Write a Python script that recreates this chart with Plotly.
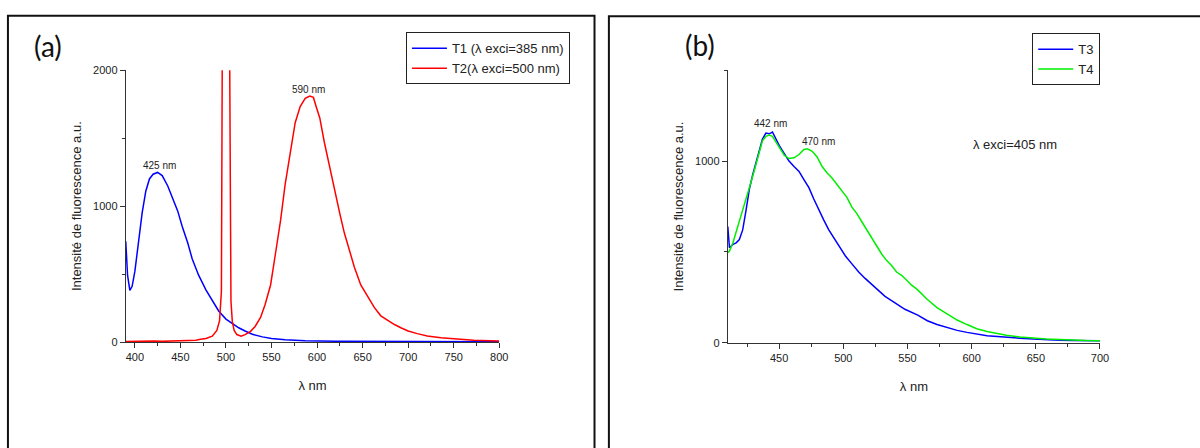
import plotly.graph_objects as go

# ---------------- data ----------------
t1_x = [390, 392, 394.5, 397, 400, 404, 408, 412, 416, 420, 425, 430, 436, 441, 447, 452, 458, 463,
        470, 478, 485, 492, 500, 507, 514, 521, 529, 540, 550, 565, 587, 620, 660, 700, 750, 800]
t1_y = [742, 490, 380, 410, 520, 740, 950, 1110, 1200, 1235, 1248, 1225, 1150, 1065, 965, 850, 730, 611,
        492, 384, 301, 229, 169, 134, 105, 81, 57, 38, 26, 17, 10, 6, 4, 3, 2, 2]

t2_x = [390, 400, 410, 420, 430, 440, 450, 460, 467, 472, 478, 485, 490, 493, 495, 496, 498, 502, 504,
        505.5, 507, 509, 512, 516.6, 521, 527, 532, 538, 543, 549, 554, 560, 565, 571, 576, 581.5, 587,
        592, 596, 599, 603, 608, 614, 619, 625, 630, 636, 641, 648, 656, 663, 670, 678, 685, 692, 700,
        710, 721, 736, 754, 772, 790, 800]
t2_y = [4, 6, 3, 7, 5, 8, 6, 9, 14, 20, 26, 43, 86, 158, 372, 2200, 4500, 4500, 2200,
        300, 150, 86, 55, 43, 55, 79, 115, 181, 277, 420, 635, 897, 1160, 1399, 1614, 1733, 1793,
        1810, 1800, 1733, 1649, 1470, 1279, 1112, 945, 802, 671, 551, 420, 325, 253, 193, 158, 129, 105, 81,
        62, 45, 31, 21, 14, 10, 7]

t3_x = [410, 411.3, 414, 416.5, 419, 421.6, 424.2, 426.8, 429.4, 432, 434.5, 437, 439.7, 442.3, 444.8,
        447.4, 450, 454, 457.7, 461.6, 465.5, 469.3, 473.2, 477, 481, 484.8, 488.7, 492.5, 496.4, 501.5,
        506.7, 512, 517, 522, 527.3, 532.5, 537.6, 542.8, 548, 558, 565.5, 573, 581, 588.7, 596.4, 604,
        612, 620, 627, 637.6, 648, 658, 668.6, 679, 689, 700]
t3_y = [640, 523, 541, 550, 568, 621, 729, 845, 925, 996, 1068, 1121, 1154, 1150, 1160,
        1121, 1086, 1041, 1000, 970, 943, 898, 854, 791, 729, 675, 621, 577, 532, 479,
        434, 389, 354, 321, 287, 255, 232, 207, 184, 152, 121, 100, 82, 68, 57, 48,
        39, 34, 29, 25, 20, 16, 14, 12, 11, 11]

t4_x = [410, 411.3, 414, 416.5, 419, 421.6, 424.2, 426.8, 429.4, 432, 434.5, 437, 439.7, 442.3, 444.8,
        447.4, 450, 454, 457.7, 461.6, 465.5, 469.3, 472, 475.8, 479.6, 483.5, 487.4, 491.2, 495, 499,
        502.8, 506.7, 510.6, 514.4, 518.3, 522, 526, 530, 533.8, 537.6, 541.5, 545.4, 549.2, 553, 558,
        565.5, 573, 581, 588.7, 596.4, 604, 612, 620, 627, 637.6, 648, 658, 668.6, 679, 689, 700]
t4_y = [496, 505, 550, 612, 675, 729, 791, 854, 916, 979, 1050, 1112, 1136, 1143, 1136,
        1104, 1077, 1032, 1014, 1018, 1036, 1064, 1068, 1054, 1023, 970, 934, 907, 871, 836,
        800, 746, 711, 666, 621, 577, 532, 487, 452, 425, 389, 371, 345, 318, 291,
        238, 193, 157, 125, 100, 77, 62, 50, 41, 32, 25, 21, 18, 14, 12, 11]

left_xrange = [390, 800]
left_yrange = [0, 2000]
right_xrange = [410, 700]
right_yrange = [0, 1500]

names = ["T1 (\u03bb exci=385 nm)", "T2(\u03bb exci=500 nm)", "T3", "T4"]
peak_labels_a = [(427.5, 1300, "425 nm"), (590.5, 1856, "590 nm")]
peak_labels_b = [(443.5, 1205, "442 nm"), (481, 1109, "470 nm")]

# ---------------- figure ----------------
W, H = 1200, 448
FONT = "Liberation Sans, Arial, sans-serif"
AX = "#333333"

def px(x):
    return x / W

def py(y):
    return 1 - y / H

fig = go.Figure()
fig.add_trace(go.Scatter(x=t1_x, y=t1_y, mode="lines", name=names[0],
                         line=dict(color="#0000ff", width=1.5), xaxis="x", yaxis="y", legend="legend"))
fig.add_trace(go.Scatter(x=t2_x, y=t2_y, mode="lines", name=names[1],
                         line=dict(color="#ff0000", width=1.5), xaxis="x", yaxis="y", legend="legend"))
fig.add_trace(go.Scatter(x=t3_x, y=t3_y, mode="lines", name=names[2],
                         line=dict(color="#0000ff", width=1.5), xaxis="x2", yaxis="y2", legend="legend2"))
fig.add_trace(go.Scatter(x=t4_x, y=t4_y, mode="lines", name=names[3],
                         line=dict(color="#00ee00", width=1.5), xaxis="x2", yaxis="y2", legend="legend2"))

common_x = dict(showline=True, linecolor=AX, linewidth=1, ticks="outside", ticklen=5, tickcolor=AX,
                showgrid=False, zeroline=False, tickfont=dict(family=FONT, size=11, color="#222"),
                dtick=50, minor=dict(ticks="outside", ticklen=3, dtick=25, tickcolor=AX, showgrid=False),
                title=dict(text="\u03bb nm", font=dict(family=FONT, size=13, color="#222"), standoff=18))
common_y = dict(showline=True, linecolor=AX, linewidth=1, ticks="outside", ticklen=5, tickcolor=AX,
                showgrid=False, zeroline=False, tickfont=dict(family=FONT, size=11, color="#222"),
                dtick=1000, tick0=0,
                minor=dict(ticks="outside", ticklen=3, dtick=500, tickcolor=AX, showgrid=False),
                title=dict(text="Intensit\u00e9 de fluorescence a.u.",
                           font=dict(family=FONT, size=13, color="#222"), standoff=8))

fig.update_layout(
    width=W, height=H, margin=dict(l=0, r=0, t=0, b=0),
    paper_bgcolor="white", plot_bgcolor="white",
    xaxis=dict(common_x, domain=[px(126.7), px(503)], range=left_xrange, tick0=400, anchor="y"),
    yaxis=dict(common_y, domain=[py(345.3), py(66)], range=left_yrange, anchor="x"),
    xaxis2=dict(common_x, domain=[px(733.3), px(1108.3)], range=right_xrange, tick0=450, anchor="y2"),
    yaxis2=dict(common_y, domain=[py(346), py(66)], range=right_yrange, anchor="x2"),
    legend=dict(x=px(409), y=py(27), xanchor="left", yanchor="top", bgcolor="white",
                bordercolor="#222", borderwidth=1, font=dict(family=FONT, size=13, color="#222"),
                itemwidth=35, tracegroupgap=0),
    legend2=dict(x=px(1040), y=py(28), xanchor="left", yanchor="top", bgcolor="white",
                 bordercolor="#222", borderwidth=1, font=dict(family=FONT, size=13, color="#222"),
                 itemwidth=35, tracegroupgap=0),
    showlegend=True,
)

# panel frames
fig.add_shape(type="rect", xref="paper", yref="paper", x0=px(8), x1=px(599), y0=-0.05, y1=py(10),
              line=dict(color="#111", width=2), fillcolor="rgba(0,0,0,0)", layer="below")
fig.add_shape(type="rect", xref="paper", yref="paper", x0=px(613.5), x1=1.05, y0=-0.05, y1=py(10.5),
              line=dict(color="#111", width=2), fillcolor="rgba(0,0,0,0)", layer="below")

# panel letters
fig.add_annotation(x=px(48), y=py(41), xref="paper", yref="paper", text="(a)", showarrow=False,
                   xanchor="center", yanchor="middle",
                   font=dict(family="Lato, Open Sans, sans-serif", size=28, color="#111"))
fig.add_annotation(x=px(705), y=py(40), xref="paper", yref="paper", text="(b)", showarrow=False,
                   xanchor="center", yanchor="middle",
                   font=dict(family="Lato, Open Sans, sans-serif", size=28, color="#111"))

for (xv, yv, t) in peak_labels_a:
    fig.add_annotation(x=xv, y=yv, xref="x", yref="y", text=t, showarrow=False,
                       xanchor="center", yanchor="middle",
                       font=dict(family=FONT, size=10, color="#222"))
for (xv, yv, t) in peak_labels_b:
    fig.add_annotation(x=xv, y=yv, xref="x2", yref="y2", text=t, showarrow=False,
                       xanchor="center", yanchor="middle",
                       font=dict(family=FONT, size=10, color="#222"))
fig.add_annotation(x=633.5, y=1089, xref="x2", yref="y2", text="\u03bb exci=405 nm", showarrow=False,
                   xanchor="center", yanchor="middle",
                   font=dict(family=FONT, size=13, color="#222"))

fig.write_html("out.html", config={"displayModeBar": False},
               post_script="document.body.style.margin='0';document.body.style.overflow='hidden';")
